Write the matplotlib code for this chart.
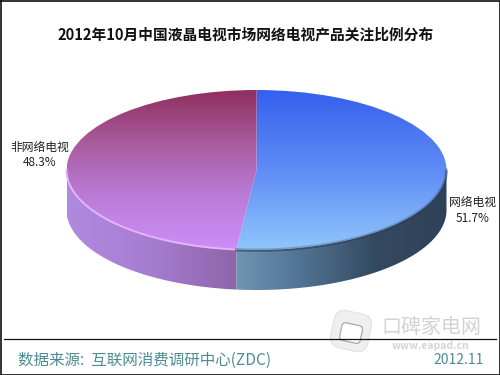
"""2012年10月 pie chart: share of attention for network TVs."""

import matplotlib
matplotlib.use("Agg")

import matplotlib.pyplot as plt
import numpy as np
from matplotlib.colors import LinearSegmentedColormap
from matplotlib.patches import FancyBboxPatch, Polygon, Wedge
from matplotlib.transforms import Affine2D

plt.rcParams["font.family"] = ["Noto Sans CJK SC", "DejaVu Sans"]

TITLE = "2012年10月中国液晶电视市场网络电视产品关注比例分布"
SOURCE = "数据来源:  互联网消费调研中心(ZDC)"
DATE = "2012.11"

labels = ["网络电视", "非网络电视"]
shares = [51.7, 48.3]

CX, CY, RX, RY, DEPTH = 256.5, 170, 190, 80, 40


def _gradient(ax, colors, extent, clip, horizontal=False):
    cmap = LinearSegmentedColormap.from_list("g", colors)
    ramp = np.linspace(0, 1, 256)
    ramp = ramp[None, :] if horizontal else ramp[:, None]
    im = ax.imshow(ramp, cmap=cmap, extent=extent, origin="upper", aspect="auto", zorder=2)
    im.set_clip_path(clip)


def _arc(t1, t2):
    t = np.radians(np.linspace(t1, t2, 200))
    return CX + RX * np.cos(t), CY - RY * np.sin(t)


def _side(ax, t1, t2, colors):
    x, y = _arc(t1, t2)
    pts = np.vstack([np.c_[x, y], np.c_[x[::-1], y[::-1] + DEPTH]])
    poly = Polygon(pts, closed=True, fc="none", ec="none", transform=ax.transData)
    ax.add_patch(poly)
    _gradient(ax, colors, (x.min(), x.max(), CY + RY + DEPTH, CY), poly, horizontal=True)


def main():
    fig = plt.figure(figsize=(5, 3.75), dpi=100)
    ax = fig.add_axes([0, 0, 1, 1])
    ax.axis("off")

    seam = 90 - 360 * shares[0] / 100
    unit = Affine2D().scale(RX, -RY).translate(CX, CY) + ax.transData

    _side(ax, 180, 360 + seam, ["#b08ae0", "#a67cd0", "#8e64a8"])
    _side(ax, 360 + seam, 360, ["#6f96b4", "#4f7090", "#34495f", "#2f4159"])

    top_extent = (CX - RX, CX + RX, CY + RY, CY - RY)
    right = Wedge((0, 0), 1, seam, 90, fc="none", ec="none", transform=unit)
    left = Wedge((0, 0), 1, 90, seam + 360, fc="none", ec="none", transform=unit)
    ax.add_patch(right)
    ax.add_patch(left)
    _gradient(ax, ["#3560ee", "#5f8cf5", "#90c6fb"], top_extent, right)
    _gradient(ax, ["#8f2f5e", "#a95c9e", "#bb7cd8", "#cc8ef8"], top_extent, left)

    # rim: light on the purple side, dark soft shadow on the blue side
    x, y = _arc(180, 360 + seam)
    ax.plot(x, y, color="#e6b4fa", lw=1.4, zorder=3)
    x, y = _arc(360 + seam, 360)
    ax.plot(x, y, color="#2d3f58", lw=2.2, alpha=0.3, zorder=3)
    ax.plot(x, y + 1, color="#2d3f58", lw=1.2, alpha=0.5, zorder=3)

    ax.text(245.5, 34, TITLE, ha="center", va="center", fontsize=10.6, fontweight="bold", color="#111111")
    ax.text(40, 147, labels[1], ha="center", va="center", fontsize=8.5, color="#222222")
    ax.text(40, 163, f"{shares[1]}%", ha="center", va="center", fontsize=8.5, color="#222222")
    ax.text(473, 202, labels[0], ha="center", va="center", fontsize=8.5, color="#222222")
    ax.text(473, 218, f"{shares[0]}%", ha="center", va="center", fontsize=8.5, color="#222222")

    # watermark logo
    tilt = Affine2D().rotate_deg_around(351, 331, 12) + ax.transData
    ax.add_patch(FancyBboxPatch((336, 316), 30, 30, boxstyle="round,pad=4,rounding_size=11",
                                fc="#efefef", ec="#e2e2e2", lw=0.8, zorder=1, transform=tilt))
    ax.add_patch(FancyBboxPatch((342, 325), 19, 16, boxstyle="round,pad=1,rounding_size=4",
                                fc="#ffffff", ec="#a8a8a8", lw=0.9, zorder=1, transform=tilt))
    ax.text(431, 327, "口碑家电网", ha="center", va="center", fontsize=14.4, color="#d2d2d2", zorder=1)
    ax.text(431, 346, "www.eapad.cn", ha="center", va="center", fontsize=7.5, fontweight="bold",
            color="#d4d4d4", zorder=1)

    ax.plot([4, 496], [338.5, 338.5], color="#111111", lw=0.9, zorder=4)
    ax.text(18, 360, SOURCE, ha="left", va="center", fontsize=11.2, color="#4d8c94", zorder=4)
    ax.text(484, 360, DATE, ha="right", va="center", fontsize=10, color="#4d8c94", zorder=4)

    # page border
    ax.plot([0.5, 499.5, 499.5, 0.5, 0.5], [0.5, 0.5, 374.5, 374.5, 0.5], color="#111111", lw=1.2, zorder=5)

    ax.set_xlim(0, 500)
    ax.set_ylim(375, 0)
    fig.savefig("out.png", dpi=100)


if __name__ == "__main__":
    main()
